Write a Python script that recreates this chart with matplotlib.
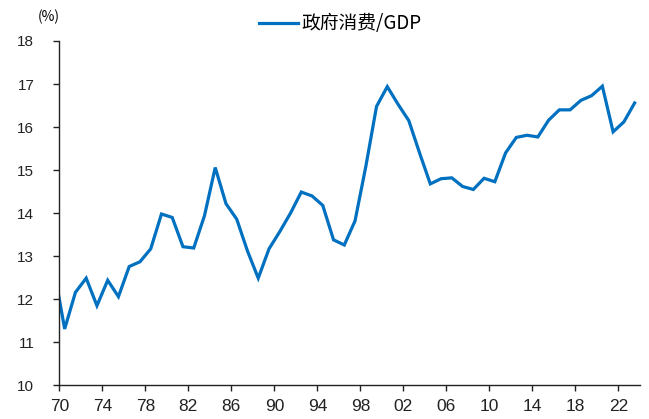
import matplotlib
matplotlib.use("Agg")
import matplotlib.pyplot as plt
from matplotlib import font_manager
import numpy as np

plt.rcParams['font.family'] = ['Liberation Sans', 'Noto Sans CJK SC', 'DejaVu Sans']

years = list(range(1969, 2024))
values = [12.70, 11.31, 12.16, 12.49, 11.85, 12.44, 12.06, 12.76, 12.87, 13.17,
          13.98, 13.90, 13.22, 13.19, 13.94, 15.06, 14.22, 13.86, 13.12, 12.49,
          13.17, 13.57, 14.00, 14.49, 14.40, 14.18, 13.38, 13.26, 13.82, 15.08,
          16.48, 16.94, 16.53, 16.15, 15.40, 14.68, 14.80, 14.82, 14.62, 14.55,
          14.81, 14.73, 15.40, 15.76, 15.81, 15.77, 16.16, 16.40, 16.40, 16.62,
          16.73, 16.95, 15.89, 16.12, 16.56]
tick_years = list(range(1970, 2023, 4))
tick_labels = [f"{y % 100:02d}" for y in tick_years]
series_name = "政府消费/GDP"

installed = {f.name for f in font_manager.fontManager.ttflist}
narrow = 'Liberation Sans Narrow' if 'Liberation Sans Narrow' in installed else 'Liberation Sans'

W, H = 649, 419
fig = plt.figure(figsize=(W / 100, H / 100), dpi=100)
ax = fig.add_axes([59.3 / W, 1 - 385.3 / H, (640 - 59.3) / W, (385.3 - 41) / H])

x = np.array(years) + 0.5
ax.plot(x, values, color='#0070C0', lw=2.3, label=series_name, solid_joinstyle='miter')

ax.set_xlim(1970, 2024)
ax.set_ylim(10, 18)
ax.set_yticks(range(10, 19))
ax.set_xticks(tick_years)
ax.set_xticklabels(tick_labels, family=[narrow, 'DejaVu Sans'], fontsize=12.5)
for s in ['top', 'right']:
    ax.spines[s].set_visible(False)
for s in ['left', 'bottom']:
    ax.spines[s].set_linewidth(1.0)
    ax.spines[s].set_color('#222222')
ax.tick_params(axis='both', direction='out', length=4, width=1.0, color='#222222',
               labelcolor='#222222')
ax.tick_params(axis='y', pad=14, labelsize=11)
ax.tick_params(axis='x', pad=6)

fig.text(38 / W, 1 - 17 / H, "(%)", fontsize=10, va='center', ha='left',
         family=['Noto Sans CJK SC', 'DejaVu Sans'])
leg = ax.legend(loc='center', bbox_to_anchor=((340 - 59.3) / (640 - 59.3), (385.3 - 24) / (385.3 - 41)),
                frameon=False, handlelength=2.1, handletextpad=0.15,
                prop={'family': ['Noto Sans CJK SC', 'DejaVu Sans'], 'size': 13.5})

fig.savefig("out.png", dpi=100)
